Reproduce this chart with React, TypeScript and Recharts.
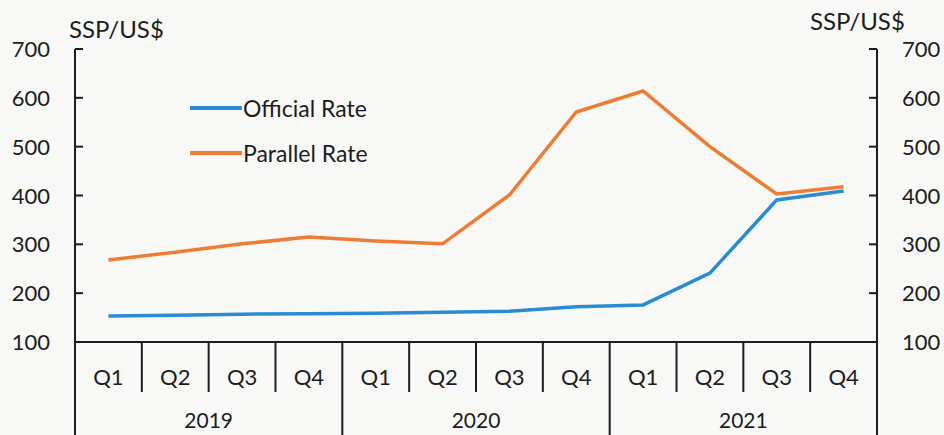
import React from "react";
import { LineChart, Line, XAxis, YAxis, Legend } from "recharts";

const quarters = ["Q1", "Q2", "Q3", "Q4", "Q1", "Q2", "Q3", "Q4", "Q1", "Q2", "Q3", "Q4"];
const years = ["2019", "2020", "2021"];
const officialRate = [153, 155, 157, 158, 159, 161, 163, 172, 176, 241, 391, 409];
const parallelRate = [268, 284, 301, 315, 307, 301, 401, 571, 614, 500, 403, 418];
const yTicks = [100, 200, 300, 400, 500, 600, 700];

const chartData = quarters.map((q, i) => ({
    idx: i,
    quarter: q,
    official: officialRate[i],
    parallel: parallelRate[i],
}));

const INK = "#1c1c1c";

// подписи кварталов, разделители и годы под осью X
function QuarterTick(props: any) {
    const { x, y, index, width, visibleTicksCount } = props;
    const half = (width || 802) / (visibleTicksCount || 12) / 2;
    const last = index % 4 === 3;
    return (
        <g>
            <text x={x} y={y + 43} textAnchor="middle" fontSize={22} fill={INK}>
                {quarters[index]}
            </text>
            {index === 0 && <line x1={x - half} x2={x - half} y1={y} y2={y + 100} stroke={INK} strokeWidth={2} />}
            <line x1={x + half} x2={x + half} y1={y} y2={last ? y + 100 : y + 50} stroke={INK} strokeWidth={2} />
            {index % 4 === 1 && (
                <text x={x + half} y={y + 86} textAnchor="middle" fontSize={21} fill={INK}>
                    {years[Math.floor(index / 4)]}
                </text>
            )}
        </g>
    );
}

function LeftTick(props: any) {
    const { x, y, payload } = props;
    return (
        <g>
            <line x1={x} x2={x + 8} y1={y} y2={y} stroke={INK} strokeWidth={2} />
            <text x={x - 25} y={y + 8} textAnchor="end" fontSize={22} fill={INK}>
                {payload.value}
            </text>
        </g>
    );
}

function RightTick(props: any) {
    const { x, y, payload } = props;
    return (
        <g>
            <line x1={x - 8} x2={x} y1={y} y2={y} stroke={INK} strokeWidth={2} />
            <text x={x + 25} y={y + 8} textAnchor="start" fontSize={22} fill={INK}>
                {payload.value}
            </text>
        </g>
    );
}

function LegendBox(props: any) {
    const { payload } = props;
    return (
        <div>
            {(payload || []).map((item: any) => (
                <div key={item.value} style={{ display: "flex", alignItems: "center", height: 45 }}>
                    <span style={{ display: "inline-block", width: 52, height: 4, background: item.color }} />
                    <span style={{ fontSize: 23, marginLeft: 1, color: INK }}>{item.value}</span>
                </div>
            ))}
        </div>
    );
}

export default function App() {
    return (
        <div
            style={{
                position: "absolute",
                left: 0,
                top: 0,
                width: 944,
                height: 435,
                background: "#f8f8f7",
                fontFamily: "Lato, 'Open Sans', sans-serif",
            }}
        >
            <LineChart width={944} height={435} data={chartData} margin={{ top: 49, right: 0, bottom: 0, left: 0 }}>
                <XAxis
                    dataKey="idx"
                    height={93}
                    padding={{ left: 33.4, right: 33.4 }}
                    interval={0}
                    tickLine={false}
                    tickSize={0}
                    tickMargin={0}
                    axisLine={{ stroke: INK, strokeWidth: 2 }}
                    tick={<QuarterTick />}
                />
                <YAxis
                    yAxisId="left"
                    width={75}
                    domain={[100, 700]}
                    ticks={yTicks}
                    interval={0}
                    tickLine={false}
                    tickSize={0}
                    tickMargin={0}
                    axisLine={{ stroke: INK, strokeWidth: 2 }}
                    tick={<LeftTick />}
                    label={({ viewBox }: any) => (
                        <text x={viewBox.x + viewBox.width - 6} y={viewBox.y - 11} fontSize={24} fill={INK}>
                            SSP/US$
                        </text>
                    )}
                />
                <YAxis
                    yAxisId="right"
                    orientation="right"
                    width={67}
                    domain={[100, 700]}
                    allowDataOverflow
                    ticks={yTicks}
                    interval={0}
                    tickLine={false}
                    tickSize={0}
                    tickMargin={0}
                    axisLine={{ stroke: INK, strokeWidth: 2 }}
                    tick={<RightTick />}
                    label={({ viewBox }: any) => (
                        <text x={viewBox.x - 67} y={viewBox.y - 19} fontSize={24} fill={INK}>
                            SSP/US$
                        </text>
                    )}
                />
                <Legend
                    layout="vertical"
                    align="center"
                    verticalAlign="middle"
                    content={<LegendBox />}
                    wrapperStyle={{ left: 190, top: 85, width: 240 }}
                />
                <Line
                    yAxisId="left"
                    type="linear"
                    dataKey="official"
                    name="Official Rate"
                    stroke="#2a8cd0"
                    strokeWidth={3.5}
                    dot={false}
                    isAnimationActive={false}
                />
                <Line
                    yAxisId="left"
                    type="linear"
                    dataKey="parallel"
                    name="Parallel Rate"
                    stroke="#ec7d33"
                    strokeWidth={3.5}
                    dot={false}
                    isAnimationActive={false}
                />
            </LineChart>
        </div>
    );
}
